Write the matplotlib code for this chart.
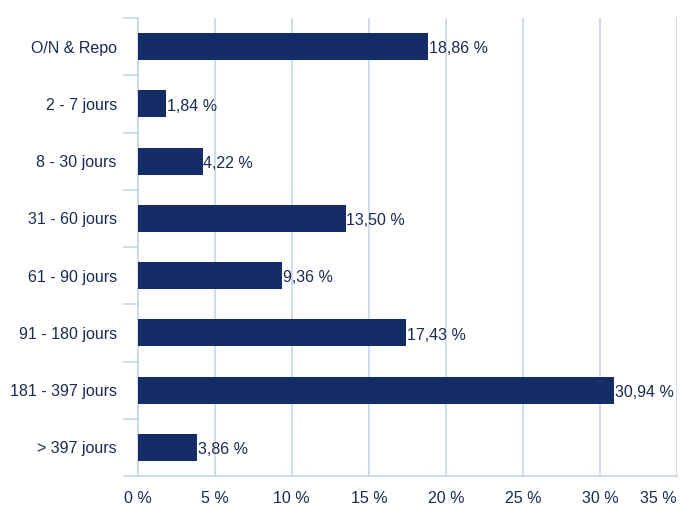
import numpy as np
import matplotlib.pyplot as plt

# Maturity buckets and their share of the portfolio (%)
categories = ["O/N & Repo", "2 - 7 jours", "8 - 30 jours", "31 - 60 jours",
              "61 - 90 jours", "91 - 180 jours", "181 - 397 jours", "> 397 jours"]
values = [18.86, 1.84, 4.22, 13.50, 9.36, 17.43, 30.94, 3.86]
xticks = [0, 5, 10, 15, 20, 25, 30, 35]

bar_color = "#142d66"
grid_color = "#c9d4e5"
text_color = "#1b2a52"

plt.rcParams["font.family"] = ["Liberation Sans", "DejaVu Sans"]
plt.rcParams["font.size"] = 11.5

fig = plt.figure(figsize=(6.8, 5.07), dpi=100)
ax = fig.add_axes([0.2025, 0.0611, 0.7931, 0.9034])

y = np.arange(len(categories))
ax.barh(y, values, height=0.47, color=bar_color, zorder=3)

for yi, v in zip(y, values):
    label = f"{v:.2f}".replace(".", ",") + " %"
    ax.text(v + 0.05, yi + 0.04, label, va="center", ha="left",
            color=text_color, fontsize=11.5, zorder=4)

ax.set_ylim(len(categories) - 0.5, -0.5)
ax.set_xlim(0, 35)

ax.set_yticks(y)
ax.set_yticklabels(categories, color=text_color)
ax.set_yticks(np.arange(len(categories) + 1) - 0.5, minor=True)
ax.tick_params(axis="y", which="major", length=0, pad=15)
ax.tick_params(axis="y", which="minor", length=11, width=1.2, color=grid_color)

ax.set_xticks(xticks)
ax.set_xticklabels([f"{t} %" for t in xticks], color=text_color)
ax.tick_params(axis="x", length=0, pad=11)
ax.get_xticklabels()[-1].set_horizontalalignment("right")
ax.get_xticklabels()[-1].set_x(35.6)

ax.grid(axis="x", color=grid_color, linewidth=1.2, zorder=0)

for side in ["top", "right"]:
    ax.spines[side].set_visible(False)
for side in ["left", "bottom"]:
    ax.spines[side].set_color(grid_color)
    ax.spines[side].set_linewidth(1.2)

fig.savefig("out.png", dpi=100)
